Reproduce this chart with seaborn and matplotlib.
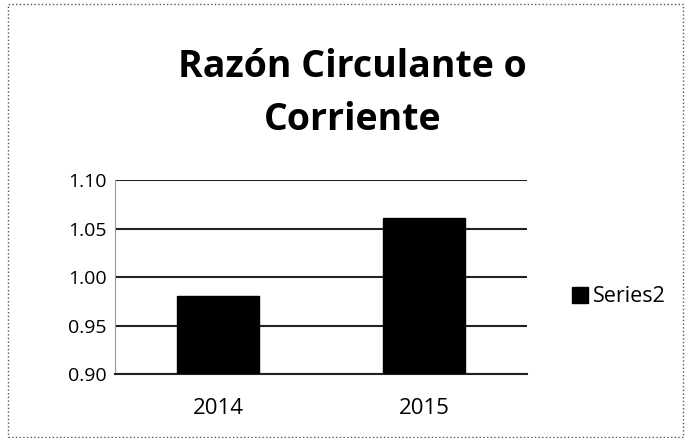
import pandas as pd
import matplotlib.pyplot as plt
import seaborn as sns
from matplotlib.patches import Rectangle

years = ["2014", "2015"]
ratios = [0.98, 1.061]
series_name = "Series2"
title_lines = ["Razón Circulante o", "Corriente"]
y_ticks = [0.90, 0.95, 1.00, 1.05, 1.10]

df = pd.DataFrame({"year": years, "ratio": ratios, "series": [series_name] * len(years)})

sns.set_style("white")
plt.rcParams["font.family"] = ["Open Sans", "DejaVu Sans"]
plt.rcParams["text.color"] = "black"

fig = plt.figure(figsize=(6.85, 4.38), dpi=100)
ax = fig.add_axes([0.168, 0.146, 0.601, 0.443])

sns.barplot(data=df, x="year", y="ratio", hue="series", palette=["black"],
            width=0.4, edgecolor="black", linewidth=1, ax=ax, zorder=3)

ax.set_ylim(0.90, 1.10)
ax.set_yticks(y_ticks)
ax.set_yticklabels([f"{v:.2f}" for v in y_ticks])
ax.yaxis.grid(True, color="#222222", linewidth=1.5, zorder=0)
ax.set_axisbelow(True)
for side in ["top", "right"]:
    ax.spines[side].set_visible(False)
ax.spines["left"].set_color("#999999")
ax.spines["bottom"].set_color("#222222")
ax.spines["bottom"].set_linewidth(1.5)
ax.set_xlabel("")
ax.set_ylabel("")
ax.tick_params(axis="y", labelsize=14, length=0, pad=6, labelcolor="black")
ax.tick_params(axis="x", labelsize=16, length=0, pad=17, labelcolor="black")

ax.get_legend().remove()
handles, labels = ax.get_legend_handles_labels()
fig.legend(handles, labels, loc="center left", bbox_to_anchor=(572 / 685, 1 - 297 / 438),
           frameon=False, fontsize=15.5, handlelength=0.75, handleheight=0.75,
           handletextpad=0.2, borderpad=0, borderaxespad=0)

# title drawn as two centred lines, like the Excel chart title
for line, y in zip(title_lines, [0.824, 0.703]):
    fig.text(0.515, y, line, ha="center", va="baseline", fontsize=27,
             fontweight="bold", color="black")

# outer chart border
fig.patches.append(Rectangle((0.012, 0.002), 0.985, 0.99, transform=fig.transFigure,
                             fill=False, edgecolor="#555555", linewidth=1, linestyle=":"))

fig.savefig("out.png", dpi=100)
plt.close()
